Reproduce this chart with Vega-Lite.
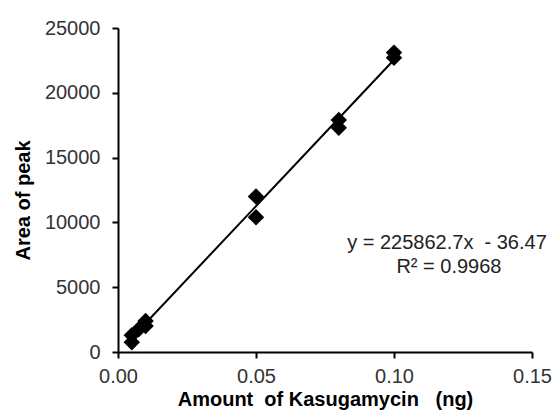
{
  "$schema": "https://vega.github.io/schema/vega-lite/v6.json",
  "width": 414,
  "height": 324,
  "autosize": {"type": "none"},
  "padding": {"left": 118, "top": 28, "right": 23, "bottom": 63},
  "background": "white",
  "config": {
    "view": {"stroke": null},
    "font": "Liberation Sans",
    "axis": {"grid": false, "domainColor": "black", "domainWidth": 2, "tickColor": "black", "tickWidth": 2, "tickSize": 6, "labelFont": "Liberation Sans", "labelFontSize": 20, "labelColor": "#333333", "titleFont": "Liberation Sans", "titleFontSize": 20, "titleFontWeight": "bold", "titleColor": "black"}
  },
  "datasets": {
    "pts": [
      {"amount": 0.005, "area": 750},
      {"amount": 0.005, "area": 1300},
      {"amount": 0.0075, "area": 1750},
      {"amount": 0.01, "area": 2000},
      {"amount": 0.01, "area": 2400},
      {"amount": 0.05, "area": 10400},
      {"amount": 0.05, "area": 12000},
      {"amount": 0.08, "area": 17300},
      {"amount": 0.08, "area": 17900},
      {"amount": 0.1, "area": 22700},
      {"amount": 0.1, "area": 23100}
    ],
    "fit": [
      {"amount": 0.004, "area": 867},
      {"amount": 0.1, "area": 22550}
    ],
    "labels": [
      {"amount": 0.1192, "area": 8410, "text": "y = 225862.7x\u00a0\u00a0- 36.47"},
      {"amount": 0.1199, "area": 6560, "text": "R² = 0.9968"}
    ]
  },
  "layer": [
    {
      "data": {"name": "fit"},
      "mark": {"type": "line", "color": "black", "strokeWidth": 2},
      "encoding": {
        "x": {"field": "amount", "type": "quantitative", "scale": {"domain": [0, 0.15], "nice": false}, "axis": {"values": [0, 0.05, 0.1, 0.15], "format": ".2f", "title": "Amount\u00a0\u00a0of Kasugamycin\u00a0\u00a0\u00a0(ng)", "labelFlush": false, "labelPadding": 8, "titlePadding": 3}},
        "y": {"field": "area", "type": "quantitative", "scale": {"domain": [0, 25000], "nice": false}, "axis": {"values": [0, 5000, 10000, 15000, 20000, 25000], "format": "d", "title": "Area of peak", "labelFlush": false, "labelPadding": 12, "titleX": -85, "titleY": 172}}
      }
    },
    {
      "data": {"name": "pts"},
      "mark": {"type": "point", "shape": "diamond", "filled": true, "color": "black", "size": 270, "opacity": 1},
      "encoding": {
        "x": {"field": "amount", "type": "quantitative"},
        "y": {"field": "area", "type": "quantitative"}
      }
    },
    {
      "data": {"name": "labels"},
      "mark": {"type": "text", "fontSize": 20, "color": "#222222", "align": "center", "baseline": "middle", "font": "Liberation Sans"},
      "encoding": {
        "x": {"field": "amount", "type": "quantitative"},
        "y": {"field": "area", "type": "quantitative"},
        "text": {"field": "text"}
      }
    }
  ]
}
